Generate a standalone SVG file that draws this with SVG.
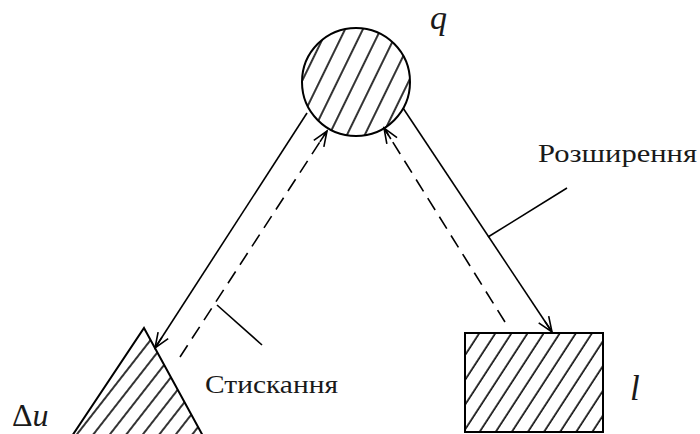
<svg xmlns="http://www.w3.org/2000/svg" width="700" height="434" viewBox="0 0 700 434">
<style>
.shape{stroke:#000;stroke-width:2;}
.conn{stroke:#000;stroke-width:1.6;fill:none;}
.dash{stroke-dasharray:14 8;}
.lbl{font-family:"Liberation Serif","Times New Roman",serif;fill:#1a1a1a;}
.it{font-style:italic;}
</style>
<defs>
<pattern id="hc" patternUnits="userSpaceOnUse" width="16" height="16" patternTransform="rotate(26)">
<line x1="3" y1="0" x2="3" y2="16" stroke="#000" stroke-width="1.6"/>
</pattern>
<pattern id="hr" patternUnits="userSpaceOnUse" width="13.5" height="14" patternTransform="rotate(33)">
<line x1="3" y1="0" x2="3" y2="14" stroke="#000" stroke-width="1.6"/>
</pattern>
<pattern id="ht" patternUnits="userSpaceOnUse" width="13" height="14" patternTransform="rotate(38)">
<line x1="3" y1="0" x2="3" y2="14" stroke="#000" stroke-width="1.6"/>
</pattern>
<marker id="arr" markerUnits="userSpaceOnUse" markerWidth="18" markerHeight="14" refX="16" refY="6" orient="auto" viewBox="0 0 18 12">
<path d="M1,0 L16,6 L1,12 M3,6 L16,6" fill="none" stroke="#000" stroke-width="1.6"/>
</marker>
</defs>
<rect width="700" height="434" fill="#fff"/>
<g id="node-q">
<circle class="shape" cx="356" cy="82" r="54" fill="url(#hc)"/>
<text class="lbl it" x="430" y="29" font-size="34">q</text>
</g>
<g id="node-du">
<polygon class="shape" points="144,328 203,436 72,436" fill="url(#ht)"/>
<text class="lbl" x="12" y="426" font-size="32">Δ<tspan class="it">u</tspan></text>
</g>
<g id="node-l">
<rect class="shape" x="465" y="333" width="138" height="99" fill="url(#hr)"/>
<text class="lbl it" x="630" y="400" font-size="35">l</text>
</g>
<g id="connectors">
<line class="conn" x1="307" y1="113" x2="155" y2="348" marker-end="url(#arr)"/>
<line class="conn dash" x1="180" y1="357" x2="327" y2="131" marker-end="url(#arr)"/>
<line class="conn" x1="403" y1="108" x2="552" y2="332" marker-end="url(#arr)"/>
<line class="conn dash" x1="505" y1="322" x2="384" y2="128" marker-end="url(#arr)"/>
<line class="conn" x1="488" y1="237" x2="567" y2="188"/>
<line class="conn" x1="217" y1="305" x2="262" y2="345"/>
</g>
<g id="labels">
<text class="lbl" x="538" y="162" font-size="26" textLength="159" lengthAdjust="spacingAndGlyphs">Розширення</text>
<text class="lbl" x="205" y="393" font-size="26" textLength="133" lengthAdjust="spacingAndGlyphs">Стискання</text>
</g>
</svg>
